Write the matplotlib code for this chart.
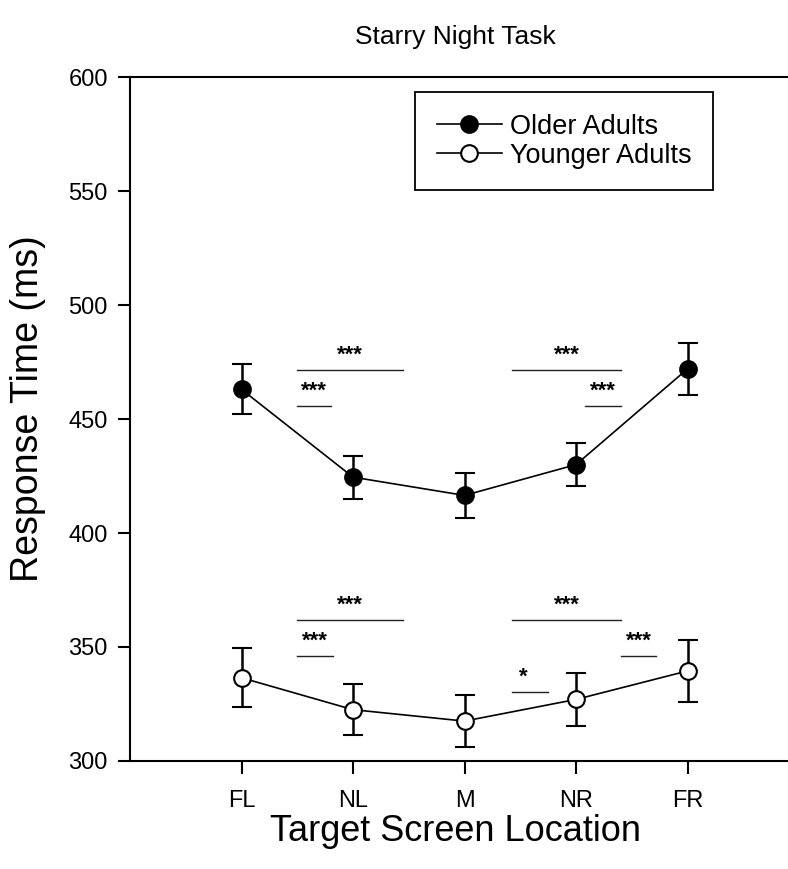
import matplotlib.pyplot as plt
from matplotlib.lines import Line2D
import numpy as np

plt.rcParams['font.family'] = ['Liberation Sans', 'DejaVu Sans']

locations = ['FL', 'NL', 'M', 'NR', 'FR']
older_rt = [463.0, 424.5, 416.5, 430.0, 472.0]
older_se = [11.0, 9.5, 10.0, 9.5, 11.3]
younger_rt = [336.5, 322.5, 317.5, 327.0, 339.5]
younger_se = [13.0, 11.3, 11.5, 11.8, 13.7]

# significance brackets: (x start, x end, y, label)
older_sig = [(1.5, 2.45, 471.5, '***'), (1.5, 1.8, 455.7, '***'),
             (3.43, 4.4, 471.5, '***'), (4.08, 4.4, 455.7, '***')]
younger_sig = [(1.5, 2.45, 361.8, '***'), (1.5, 1.82, 346.0, '***'),
               (3.43, 4.4, 361.8, '***'), (4.4, 4.72, 346.0, '***'),
               (3.43, 3.75, 330.3, '*')]

x = np.arange(1, len(locations) + 1)

fig = plt.figure(figsize=(7.88, 8.69), dpi=100)
ax = fig.add_axes([0.165, 0.1243, 0.849, 0.787])

style = dict(color='black', lw=1.2, marker='o', ms=12, mec='black', mew=1.5,
             ecolor='black', elinewidth=1.8, capsize=7, capthick=1.8, zorder=3)
ax.errorbar(x, older_rt, yerr=older_se, mfc='black', **style)
ax.errorbar(x, younger_rt, yerr=younger_se, mfc='white', **style)

for x0, x1, y, lab in older_sig + younger_sig:
    ax.plot([x0, x1], [y, y], color='#222222', lw=1.0)
    xt = (x0 + x1) / 2 if lab != '*' else x0 + 0.1
    ax.text(xt, y + 2.0, lab, ha='center', va='bottom', fontsize=16,
            fontweight='bold')

ax.set_xlim(0, 6)
ax.set_ylim(300, 600)
ax.set_xticks(x)
ax.set_xticklabels(locations)
ax.set_yticks(np.arange(300, 601, 50))
ax.tick_params(direction='out', length=9, width=1.5, labelsize=17, pad=7)
ax.tick_params(axis='x', pad=12)
for s in ['left', 'bottom', 'top']:
    ax.spines[s].set_linewidth(1.5)
ax.spines['right'].set_visible(False)

ax.set_ylabel('Response Time (ms)', fontsize=27)
ax.yaxis.set_label_coords(-0.125, 0.515)
ax.set_xlabel('Target Screen Location', fontsize=26)
ax.xaxis.set_label_coords(0.487, -0.078)
fig.text(455 / 788, 1 - 37 / 869, 'Starry Night Task', fontsize=19,
         ha='center', va='center')

handles = [Line2D([], [], color='black', lw=1.2, marker='o', ms=12,
                  mfc='black', mec='black', mew=1.5),
           Line2D([], [], color='black', lw=1.2, marker='o', ms=12,
                  mfc='white', mec='black', mew=1.5)]
leg = ax.legend(handles, ['Older Adults', 'Younger Adults'],
                loc='upper left', bbox_to_anchor=(0.426, 0.978),
                fontsize=19.5, frameon=True, fancybox=False, framealpha=1,
                edgecolor='black', handlelength=2.4, borderpad=0.8,
                labelspacing=0.1, handletextpad=0.3, borderaxespad=0)
leg.get_frame().set_linewidth(1.3)

fig.savefig('out.png', dpi=100)
